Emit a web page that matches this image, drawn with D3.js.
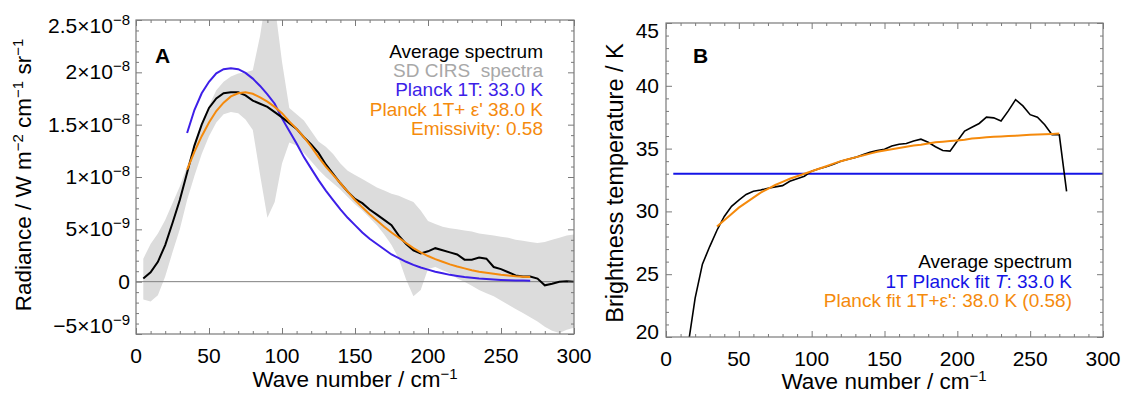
<!DOCTYPE html>
<html>
<head>
<meta charset="utf-8">
<script src="https://cdn.jsdelivr.net/npm/d3@7"></script>
<style>
  body { margin: 0; background: #fff; }
  svg { font-family: "Liberation Sans", Arial, Helvetica, sans-serif; }
</style>
</head>
<body>
<div id="chart"></div>
<script>
// Panel A: radiance, values in units of 1e-9 W m-2 cm-1 sr-1
const avgWn = [5,10,15,20,25,30,35,40,45,50,55,60,65,70,75,80,85,90,95,100,
  105,110,115,120,125,130,135,140,145,150,155,160,165,170,175,180,185,190,195,200,
  205,210,215,220,225,230,235,240,245,250,255,260,265,270,275,280,285,290,295,300];
const avgRad = [0.3,0.9,1.9,3.5,5.6,7.8,10.4,13.0,15.0,16.6,17.5,18.0,18.1,18.1,17.8,17.3,17.0,16.7,16.2,15.7,
  15.15,14.6,13.8,13.1,12.3,11.2,10.3,9.4,8.6,7.9,7.5,6.9,6.4,5.9,5.4,4.4,3.6,3.0,2.7,2.9,
  3.2,3.0,2.8,2.6,2.1,2.1,2.3,2.2,1.4,1.2,0.9,0.6,0.5,0.5,0.3,-0.35,-0.2,0.0,0.05,0.0];
const sdUpper = [2.2,3.6,4.6,5.9,7.5,9.1,11.0,13.2,15.2,16.8,18.3,19.1,19.6,19.9,20.0,20.2,23.5,28,26.5,21.0,
  16.6,16.0,15.4,14.4,13.4,12.9,12.2,11.3,10.6,10.2,9.8,9.4,9.0,8.7,8.4,8.2,7.9,7.6,6.8,5.8,
  5.5,5.25,5.1,5.0,4.9,4.8,4.6,4.5,4.4,4.3,4.2,4.0,3.9,3.8,3.7,3.8,4.0,4.2,4.4,4.5];
const sdLower = [-1.7,-1.9,-1.3,0.5,2.8,5.0,7.8,10.1,12.2,13.9,15.2,16.0,16.2,16.1,15.5,14.5,10.2,6.1,7.6,11.3,
  13.3,13.0,12.3,11.5,10.7,10.0,9.4,8.8,8.1,7.4,6.8,6.1,5.4,4.5,3.5,2.2,0.2,-1.4,-0.8,1.2,
  1.4,1.1,0.8,0.3,0.0,-0.4,-0.8,-1.1,-1.4,-1.8,-2.2,-2.6,-3.0,-3.4,-3.8,-4.3,-4.7,-4.9,-4.6,-4.4];

const fitWn = [35,40,45,50,55,60,65,70,75,80,85,90,95,100,105,110,115,120,125,130,
  135,140,145,150,155,160,165,170,175,180,185,190,195,200,205,210,215,220,225,230,
  235,240,245,250,255,260,265,270];
const planck1T = [14.2,16.4,18.0,19.1,19.9,20.3,20.4,20.3,19.95,19.4,18.7,17.9,17.0,15.6,14.4,13.2,11.9,10.8,9.7,8.7,
  7.8,6.9,6.1,5.4,4.7,4.1,3.6,3.1,2.6,2.25,1.9,1.6,1.35,1.15,0.95,0.8,0.65,0.55,0.45,0.38,
  0.31,0.26,0.21,0.17,0.14,0.12,0.1,0.08];
const planckEps = [10.7,12.4,13.9,15.2,16.3,17.1,17.7,18.0,18.1,17.95,17.6,17.2,16.7,16.1,15.3,14.6,13.8,12.9,11.9,11.0,
  10.2,9.4,8.6,7.8,7.1,6.45,5.85,5.25,4.7,4.2,3.7,3.2,2.8,2.45,2.15,1.9,1.65,1.45,1.27,1.1,
  0.95,0.85,0.75,0.65,0.58,0.52,0.48,0.45];

// Panel B: brightness temperature (K)
const tbWn = [15,20,25,30,35,40,45,50,55,60,65,70,75,80,85,90,95,100,105,110,
  115,120,125,130,135,140,145,150,155,160,165,170,175,180,185,190,195,200,205,210,
  215,220,225,230,235,240,245,250,255,260,265,270,275];
const tbAvg = [19.2,23.1,25.8,27.2,28.5,29.6,30.4,30.9,31.35,31.6,31.7,31.85,31.95,32.05,32.4,32.6,32.8,33.2,33.4,33.55,
  33.75,34.0,34.15,34.3,34.5,34.7,34.85,34.95,35.2,35.35,35.4,35.6,35.75,35.5,35.15,34.85,34.8,35.6,36.4,36.7,
  37.0,37.5,37.45,37.2,38.0,38.9,38.4,37.7,37.5,36.9,36.1,36.1,31.6];
const tb1TWn = [5, 300];
const tb1T = [33.0, 33.0];
const tbEps = [28.8,29.3,29.8,30.3,30.7,31.1,31.5,31.8,32.1,32.35,32.6,32.8,33.0,33.2,33.4,33.6,33.8,34.0,34.15,34.3,
  34.45,34.6,34.75,34.85,34.95,35.05,35.15,35.25,35.3,35.4,35.5,35.55,35.6,35.65,35.7,35.8,35.85,35.9,35.95,35.97,
  36.0,36.03,36.06,36.1,36.12,36.15,36.17,36.2];

const xTicks = [0, 50, 100, 150, 200, 250, 300];
const xMinor = [10,20,30,40,60,70,80,90,110,120,130,140,160,170,180,190,210,220,230,240,260,270,280,290];
const radTicks = [-5, 0, 5, 10, 15, 20, 25];
const radTickLabels = [["\u22125\u00d710", "\u22129"], ["0", ""], ["5\u00d710", "\u22129"], ["1\u00d710", "\u22128"],
  ["1.5\u00d710", "\u22128"], ["2\u00d710", "\u22128"], ["2.5\u00d710", "\u22128"]];
const tbTicks = [20, 25, 30, 35, 40, 45];

const width = 1123, height = 393;
const frameColor = "#7a7a7a";
const tickFont = 21, titleFont = 22.5, supFont = 15;

const svg = d3.select("#chart").append("svg")
  .attr("width", width)
  .attr("height", height);
svg.append("rect").attr("width", width).attr("height", height).attr("fill", "#fff");

// draws frame with inward ticks on all four sides
function drawFrame(g, x, y, yMajor, yMinor) {
  const [x0, x1] = x.range();
  const [y0, y1] = y.range();
  const sides = [
    [d3.axisBottom(x), y0, xTicks, xMinor, "x"],
    [d3.axisTop(x), y1, xTicks, xMinor, "x"],
    [d3.axisLeft(y), x0, yMajor, yMinor, "y"],
    [d3.axisRight(y), x1, yMajor, yMinor, "y"]
  ];
  sides.forEach(([ax, pos, major, minor, dir]) => {
    [[major, 6], [minor, 3]].forEach(([vals, len]) => {
      const a = g.append("g")
        .attr("transform", dir === "x" ? `translate(0,${pos})` : `translate(${pos},0)`)
        .call(ax.tickValues(vals).tickSize(-len).tickFormat(""));
      a.select(".domain").remove();
      a.selectAll("line").attr("stroke", frameColor);
    });
  });
  g.append("rect")
    .attr("x", x0).attr("y", y1)
    .attr("width", x1 - x0).attr("height", y0 - y1)
    .attr("fill", "none").attr("stroke", frameColor).attr("stroke-width", 1.2);

  g.selectAll(".xlab").data(xTicks).enter().append("text")
    .attr("x", d => x(d)).attr("y", y0 + 29)
    .attr("text-anchor", "middle").attr("font-size", tickFont)
    .text(d => d);
}

function supText(sel, main, sup, size, supSize) {
  sel.append("tspan").attr("font-size", size).text(main);
  if (sup) sel.append("tspan").attr("font-size", supSize).attr("dy", -8).text(sup);
}

// ---------- Panel A ----------
const xA = d3.scaleLinear().domain([0, 300]).range([136, 574]);
const yA = d3.scaleLinear().domain([-5, 25]).range([334, 20]);
const gA = svg.append("g");

svg.append("clipPath").attr("id", "clipA").append("rect")
  .attr("x", 136).attr("y", 20).attr("width", 438).attr("height", 314);
svg.append("clipPath").attr("id", "clipB").append("rect")
  .attr("x", 666).attr("y", 23).attr("width", 437).attr("height", 314);

const band = avgWn.map((w, i) => ({w: w, lo: sdLower[i], hi: sdUpper[i]}));
gA.append("path")
  .datum(band)
  .attr("clip-path", "url(#clipA)")
  .attr("fill", "#dcdcdc")
  .attr("d", d3.area().x(d => xA(d.w)).y0(d => yA(d.lo)).y1(d => yA(d.hi)));

gA.append("line")
  .attr("x1", xA(0)).attr("x2", xA(300))
  .attr("y1", yA(0)).attr("y2", yA(0))
  .attr("stroke", "#808080").attr("stroke-width", 1);

const lineA = d3.line().x(d => xA(d[0])).y(d => yA(d[1]));
gA.append("path").datum(fitWn.map((w, i) => [w, planck1T[i]]))
  .attr("d", lineA).attr("fill", "none").attr("stroke", "#3d1fe8").attr("stroke-width", 2);
gA.append("path").datum(avgWn.map((w, i) => [w, avgRad[i]]))
  .attr("clip-path", "url(#clipA)")
  .attr("d", lineA).attr("fill", "none").attr("stroke", "#000").attr("stroke-width", 2);
gA.append("path").datum(fitWn.map((w, i) => [w, planckEps[i]]))
  .attr("d", lineA).attr("fill", "none").attr("stroke", "#f58a0c").attr("stroke-width", 2);

drawFrame(gA, xA, yA, radTicks, d3.range(-4, 25).filter(v => v % 5 !== 0));

radTicks.forEach((t, i) => {
  let yy = yA(t) + 7;
  if (i === 0) yy -= 8;
  if (i === radTicks.length - 1) yy += 6;
  const tx = gA.append("text").attr("x", 130).attr("y", yy).attr("text-anchor", "end");
  supText(tx, radTickLabels[i][0], radTickLabels[i][1], tickFont, supFont);
});

const xlabA = gA.append("text").attr("x", 355).attr("y", 387).attr("text-anchor", "middle");
supText(xlabA, "Wave number / cm", "\u22121", titleFont, supFont);

const ylabA = gA.append("text")
  .attr("transform", "translate(31,175) rotate(-90)")
  .attr("text-anchor", "middle");
ylabA.append("tspan").attr("font-size", titleFont).text("Radiance / W m");
ylabA.append("tspan").attr("font-size", supFont).attr("dy", -8).text("\u22122");
ylabA.append("tspan").attr("font-size", titleFont).attr("dy", 8).text(" cm");
ylabA.append("tspan").attr("font-size", supFont).attr("dy", -8).text("\u22121");
ylabA.append("tspan").attr("font-size", titleFont).attr("dy", 8).text(" sr");
ylabA.append("tspan").attr("font-size", supFont).attr("dy", -8).text("\u22121");

gA.append("text").attr("x", 155).attr("y", 63).attr("font-size", 21)
  .attr("font-weight", "bold").text("A");

const legA = [
  ["Average spectrum", "#000"],
  ["SD CIRS  spectra", "#a8a8a8"],
  ["Planck 1T: 33.0 K", "#3d1fe8"],
  ["Planck 1T+ \u03b5' 38.0 K", "#f58a0c"],
  ["Emissivity: 0.58", "#f58a0c"]
];
gA.selectAll(".legA").data(legA).enter().append("text")
  .attr("x", 543).attr("y", (d, i) => 58 + i * 19.2)
  .attr("text-anchor", "end").attr("font-size", 19)
  .attr("fill", d => d[1])
  .attr("xml:space", "preserve")
  .text(d => d[0]);

// ---------- Panel B ----------
const xB = d3.scaleLinear().domain([0, 300]).range([666, 1103]);
const yB = d3.scaleLinear().domain([20, 45]).range([337, 23]);
const gB = svg.append("g");
const lineB = d3.line().x(d => xB(d[0])).y(d => yB(d[1]));

gB.append("path").datum(tb1TWn.map((w, i) => [w, tb1T[i]]))
  .attr("d", lineB).attr("fill", "none").attr("stroke", "#1414e6").attr("stroke-width", 2);
gB.append("path").datum(tbWn.map((w, i) => [w, tbAvg[i]]))
  .attr("clip-path", "url(#clipB)")
  .attr("d", lineB).attr("fill", "none").attr("stroke", "#000").attr("stroke-width", 1.6);
gB.append("path").datum(fitWn.map((w, i) => [w, tbEps[i]]))
  .attr("d", lineB).attr("fill", "none").attr("stroke", "#f58a0c").attr("stroke-width", 2);

drawFrame(gB, xB, yB, tbTicks, d3.range(21, 45).filter(v => v % 5 !== 0));

tbTicks.forEach((t, i) => {
  let yy = yB(t) + 7;
  if (i === 0) yy -= 5;
  if (i === tbTicks.length - 1) yy += 8;
  gB.append("text").attr("x", 659).attr("y", yy).attr("text-anchor", "end")
    .attr("font-size", tickFont).text(t);
});

const xlabB = gB.append("text").attr("x", 884).attr("y", 389).attr("text-anchor", "middle");
supText(xlabB, "Wave number / cm", "\u22121", titleFont, supFont);

gB.append("text")
  .attr("transform", "translate(623,183) rotate(-90)")
  .attr("text-anchor", "middle").attr("font-size", 23.5)
  .text("Brightness temperature / K");

gB.append("text").attr("x", 693).attr("y", 63).attr("font-size", 21)
  .attr("font-weight", "bold").text("B");

const legB = gB.append("g").attr("font-size", 19).attr("text-anchor", "end");
legB.append("text").attr("x", 1072).attr("y", 268).text("Average spectrum");
const l2 = legB.append("text").attr("x", 1072).attr("y", 287.5).attr("fill", "#1414e6");
l2.append("tspan").text("1T Planck fit ");
l2.append("tspan").attr("font-style", "italic").text("T");
l2.append("tspan").text(": 33.0 K");
legB.append("text").attr("x", 1072).attr("y", 307).attr("fill", "#f58a0c")
  .text("Planck fit 1T+\u03b5': 38.0 K (0.58)");
</script>
</body>
</html>
